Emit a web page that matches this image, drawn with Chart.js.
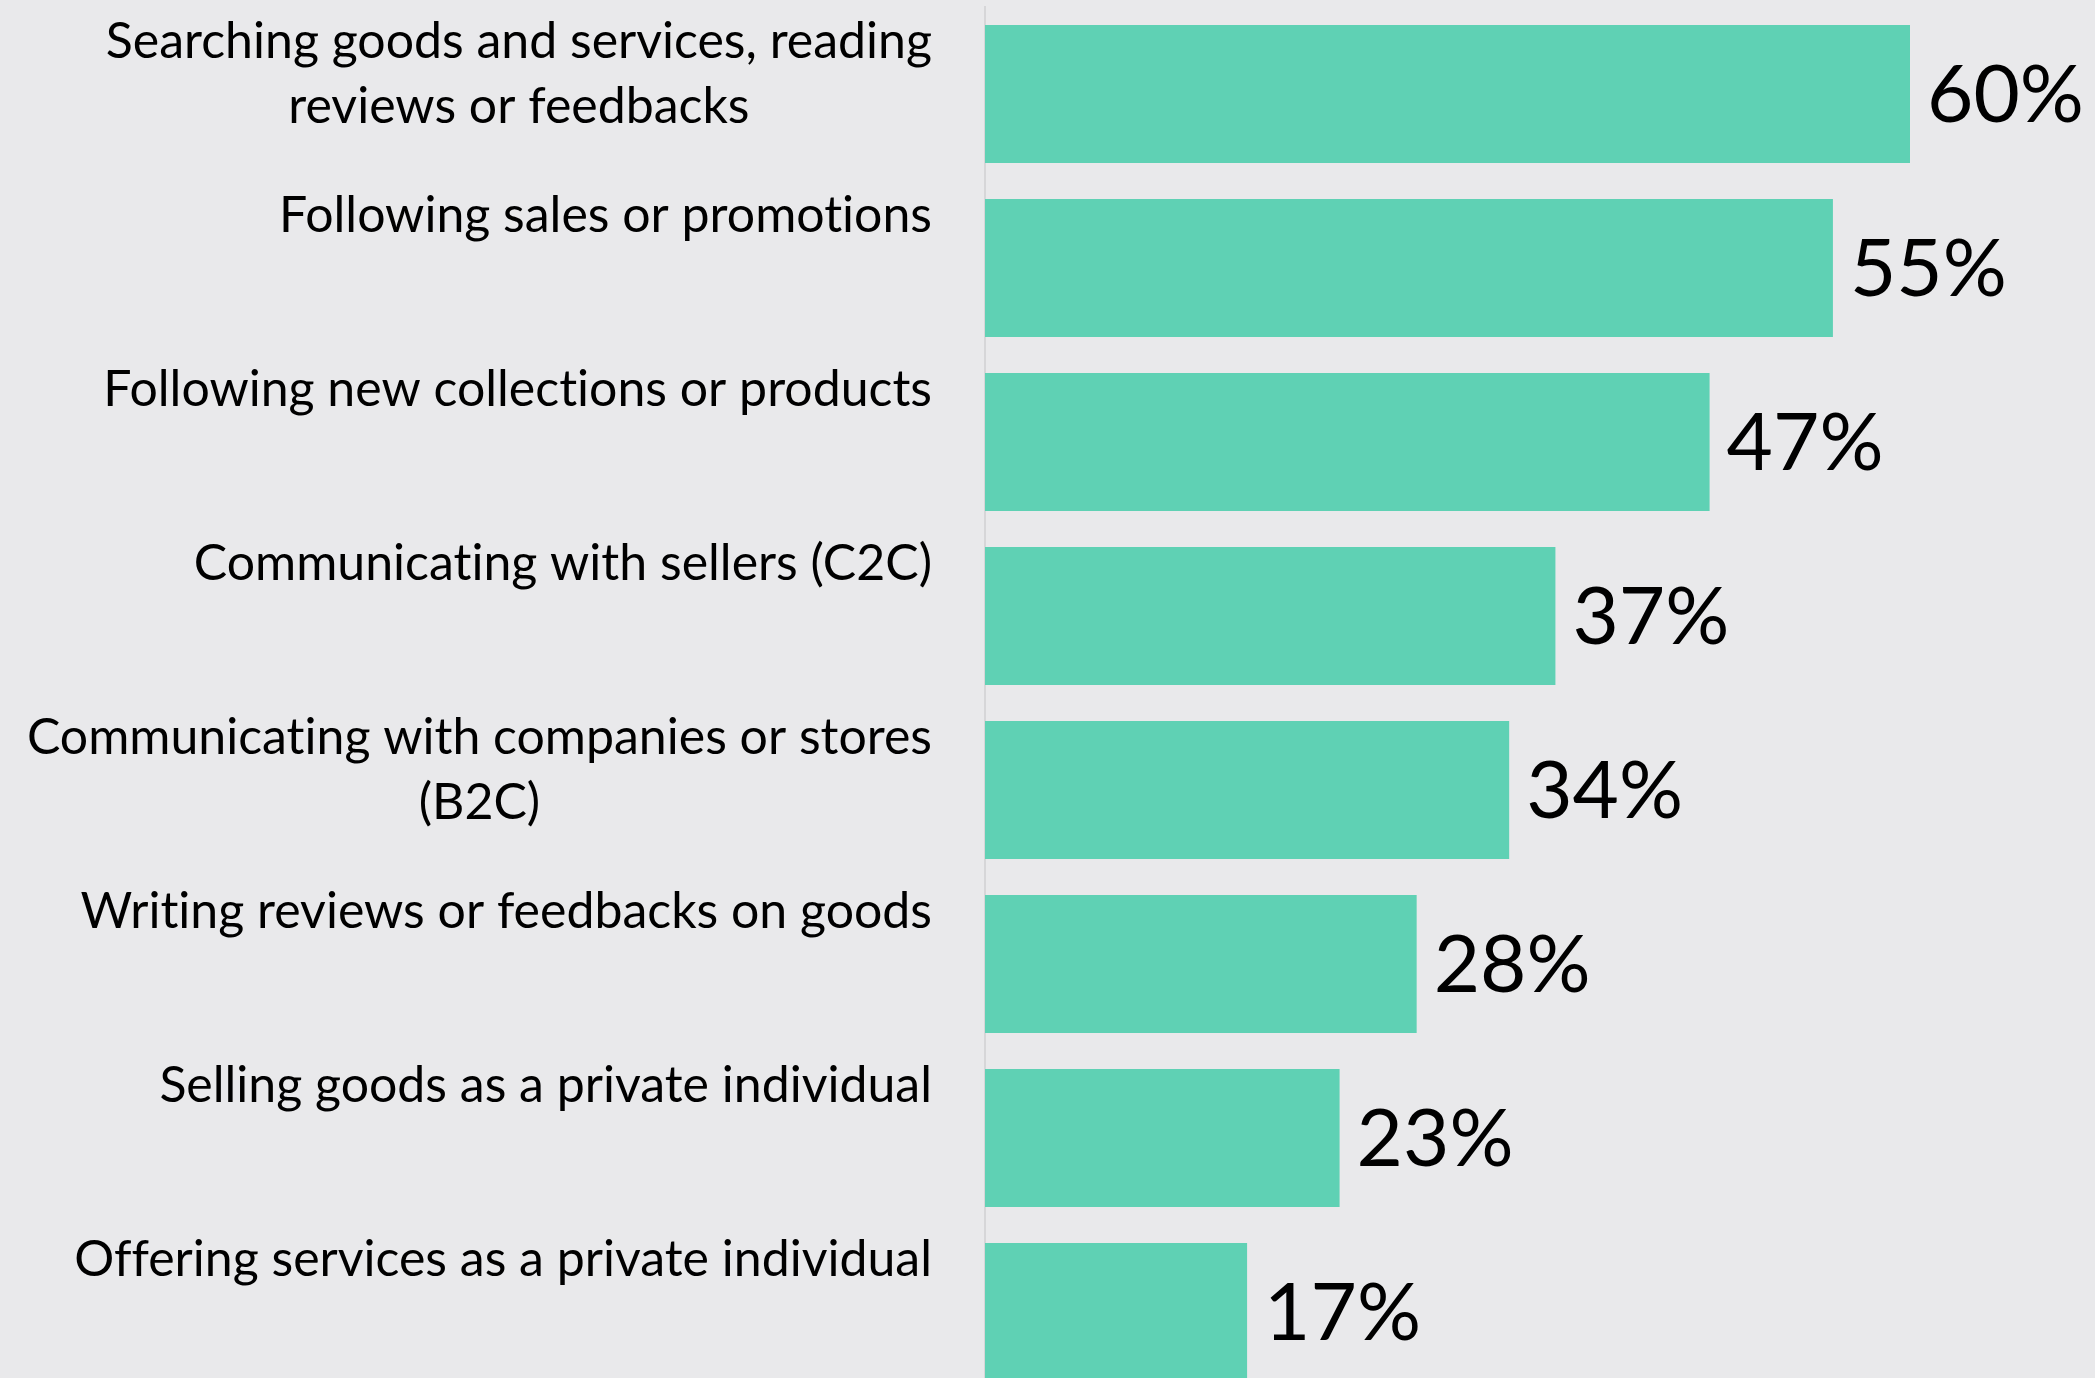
<!DOCTYPE html>
<html lang="en">
<head>
    <meta charset="UTF-8">
    <meta name="viewport" content="width=device-width, initial-scale=1.0">
    <title>Online shopping activities</title>
    <script src="https://cdn.jsdelivr.net/npm/chart.js"></script>
    <style>
        html, body {
            margin: 0;
            padding: 0;
            background: #e9e9eb;
            overflow: hidden;
        }
        .chart-box {
            width: 2095px;
            height: 1400px;
        }
    </style>
</head>
<body>
    <div class="chart-box">
        <canvas id="grafik" width="2095" height="1400"></canvas>
    </div>

    <script>
        // Activities, one array per label (one entry per line)
        const activities = [
            ['Searching goods and services, reading', 'reviews or feedbacks'],
            ['Following sales or promotions'],
            ['Following new collections or products'],
            ['Communicating with sellers (C2C)'],
            ['Communicating with companies or stores', '(B2C)'],
            ['Writing reviews or feedbacks on goods'],
            ['Selling goods as a private individual'],
            ['Offering services as a private individual']
        ];
        // Share of respondents, in percent
        const shares = [60, 55, 47, 37, 34, 28, 23, 17];

        const barColor = '#5fd1b4';
        const fontName = 'Lato, "Open Sans", sans-serif';

        // Plain glyphs, no "ti" ligatures
        const plainText = {
            id: 'plainText',
            beforeDraw(chart) {
                chart.ctx.textRendering = 'optimizeSpeed';
            }
        };

        // Category labels: top of the band, block right-aligned, lines centred inside it
        const categoryLabels = {
            id: 'categoryLabels',
            afterDraw(chart) {
                const ctx = chart.ctx;
                const yScale = chart.scales.y;
                const right = yScale.right - 53;
                const lineHeight = 65;
                ctx.save();
                ctx.font = '50px ' + fontName;
                ctx.fillStyle = '#000';
                ctx.textAlign = 'center';
                ctx.textBaseline = 'middle';
                activities.forEach((lines, i) => {
                    const widest = Math.max(...lines.map(l => ctx.measureText(l).width));
                    const cx = right - widest / 2;
                    const top = yScale.getPixelForTick(i) - 52;
                    lines.forEach((line, j) => {
                        ctx.fillText(line, cx, top + j * lineHeight);
                    });
                });
                ctx.restore();
            }
        };

        // Percent text to the right of each bar
        const valueLabels = {
            id: 'valueLabels',
            afterDatasetsDraw(chart) {
                const ctx = chart.ctx;
                const meta = chart.getDatasetMeta(0);
                ctx.save();
                ctx.font = '80px ' + fontName;
                ctx.fillStyle = '#000';
                ctx.textAlign = 'left';
                ctx.textBaseline = 'middle';
                meta.data.forEach((bar, i) => {
                    ctx.fillText(shares[i] + '%', bar.x + 17, bar.y + 2);
                });
                ctx.restore();
            }
        };

        const ctx = document.getElementById('grafik').getContext('2d');
        new Chart(ctx, {
            type: 'bar',
            data: {
                labels: activities,
                datasets: [{
                    data: shares,
                    backgroundColor: barColor,
                    borderWidth: 0,
                    barPercentage: 0.793,
                    categoryPercentage: 1
                }]
            },
            options: {
                indexAxis: 'y',
                responsive: false,
                animation: false,
                layout: {
                    padding: { top: 7, bottom: 1, left: 0, right: 0 }
                },
                plugins: {
                    legend: { display: false },
                    tooltip: { enabled: false }
                },
                scales: {
                    x: {
                        display: false,
                        min: 0,
                        max: 72
                    },
                    y: {
                        grid: { display: false, drawTicks: false },
                        border: { display: true, color: '#d6d6d8', width: 2 },
                        ticks: { display: false },
                        afterFit(scale) {
                            scale.width = 985;
                            scale.paddingTop = 0;
                            scale.paddingBottom = 0;
                        }
                    }
                }
            },
            plugins: [plainText, categoryLabels, valueLabels]
        });
    </script>
</body>
</html>
